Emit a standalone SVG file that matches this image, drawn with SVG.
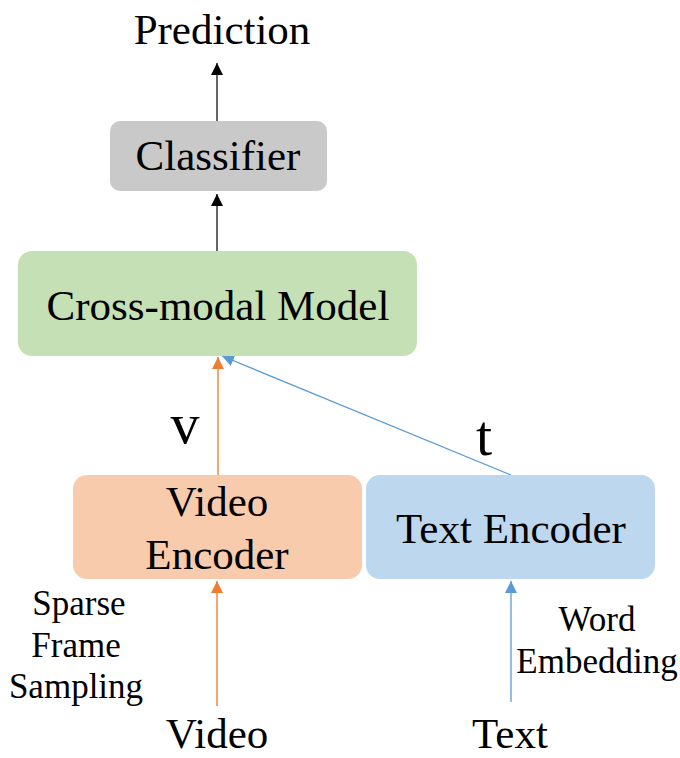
<svg xmlns="http://www.w3.org/2000/svg" width="680" height="758" viewBox="0 0 680 758">
  <style>
    text { font-family: "Liberation Serif", "Times New Roman", serif; fill: #000; text-anchor: middle; }
    .big { font-size: 43px; }
    .var { font-size: 58px; }
    .note { font-size: 35px; }
    .box { stroke: none; }
    .k { stroke: #555; stroke-width: 1.8; fill: none; }
    .o { stroke: #f4a66f; stroke-width: 2; fill: none; }
    .b { stroke: #5b9bd5; stroke-width: 1.3; fill: none; }
  </style>
  <defs>
    <marker id="headK" viewBox="0 0 12 12" refX="12" refY="6" markerWidth="12" markerHeight="12" markerUnits="userSpaceOnUse" orient="auto">
      <path d="M0,0 L12,6 L0,12 Z" fill="#000"/>
    </marker>
    <marker id="headO" viewBox="0 0 12 12" refX="12" refY="6" markerWidth="12" markerHeight="13" markerUnits="userSpaceOnUse" orient="auto">
      <path d="M0,0 L12,6 L0,12 Z" fill="#ed7d31"/>
    </marker>
    <marker id="headB" viewBox="0 0 12 12" refX="12" refY="6" markerWidth="12" markerHeight="13" markerUnits="userSpaceOnUse" orient="auto">
      <path d="M0,0 L12,6 L0,12 Z" fill="#5b9bd5"/>
    </marker>
  </defs>

  <!-- connectors -->
  <g id="connectors">
    <line class="k" x1="217" y1="121" x2="217" y2="63" marker-end="url(#headK)"/>
    <line class="k" x1="217" y1="251" x2="217" y2="194" marker-end="url(#headK)"/>
    <line class="o" x1="218" y1="475" x2="218" y2="357" marker-end="url(#headO)"/>
    <line class="b" x1="511" y1="475" x2="222" y2="356" marker-end="url(#headB)"/>
    <line class="o" x1="217" y1="706" x2="217" y2="581" marker-end="url(#headO)"/>
    <line class="b" x1="511" y1="702" x2="511" y2="581" marker-end="url(#headB)"/>
  </g>

  <!-- edge labels -->
  <g id="labels">
    <text class="var" x="185" y="443">v</text>
    <text class="var" x="484" y="455">t</text>
    <text class="note" x="79" y="615">Sparse</text>
    <text class="note" x="76" y="657">Frame</text>
    <text class="note" x="76" y="698">Sampling</text>
    <text class="note" x="597" y="631">Word</text>
    <text class="note" x="597" y="673">Embedding</text>
  </g>

  <g id="prediction">
    <text class="big" x="222" y="44">Prediction</text>
  </g>

  <g id="classifier">
    <rect class="box" x="110" y="121" width="217" height="70" rx="10" fill="#c9c9c9"/>
    <text class="big" x="218" y="170">Classifier</text>
  </g>

  <g id="cross-modal">
    <rect class="box" x="18" y="251" width="399" height="105" rx="14" fill="#c5e0b4"/>
    <text class="big" x="218" y="320">Cross-modal Model</text>
  </g>

  <g id="video-encoder">
    <rect class="box" x="73" y="475" width="289" height="104" rx="14" fill="#f8cbad"/>
    <text class="big" x="217" y="516">Video</text>
    <text class="big" x="217" y="569">Encoder</text>
  </g>

  <g id="text-encoder">
    <rect class="box" x="366" y="475" width="289" height="104" rx="14" fill="#bdd7ee"/>
    <text class="big" x="511" y="543">Text Encoder</text>
  </g>

  <g id="video-input">
    <text class="big" x="217" y="748">Video</text>
  </g>

  <g id="text-input">
    <text class="big" x="510" y="748">Text</text>
  </g>
</svg>
